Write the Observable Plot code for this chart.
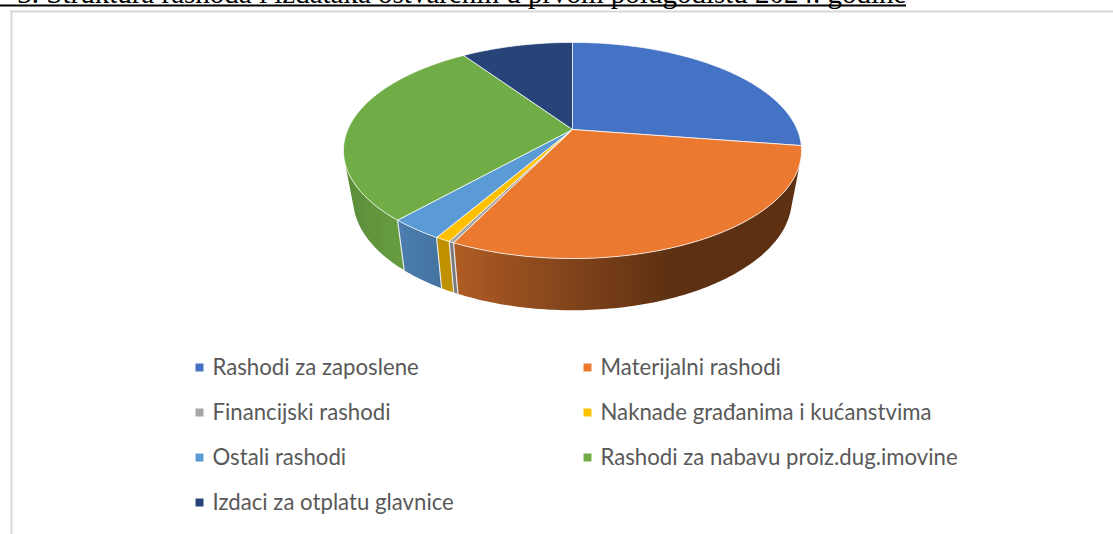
<!DOCTYPE html>
<html>
<head>
<meta charset="utf-8">
<script src="https://cdn.jsdelivr.net/npm/d3@7"></script>
<script src="https://cdn.jsdelivr.net/npm/@observablehq/plot@0.6"></script>
<style>
html,body{margin:0;padding:0;background:#fff;overflow:hidden}
svg{display:block}
</style>
</head>
<body>
<div id="chart"></div>
<script>
const titleText = "3. Struktura rashoda i izdataka ostvarenih u prvom polugodištu 2024. godine";
const categories = ["Rashodi za zaposlene","Materijalni rashodi","Financijski rashodi","Naknade građanima i kućanstvima","Ostali rashodi","Rashodi za nabavu proiz.dug.imovine","Izdaci za otplatu glavnice"];
const shares = [27.4, 29.8, 0.3, 0.9, 3.2, 28.9, 9.5];
const topColors = ["#4472C4","#EB7A30","#A5A5A5","#FFC000","#5B9BD5","#70AD47","#264478"];
const sideColors = ["#335593","url(#sideOrange)","#7C7C7C","#BF9000","url(#sideBlue)","url(#sideGreen)","#1C3359"];
const legendCols = [0,1,0,1,0,1,0];
const legendRows = [0,0,1,1,2,2,3];

const W = 1113, H = 534;
// perspective parameters of the top and bottom discs
const topDisc = {cx:572, cy:129, a:224.7, b:104, k:0.194};
const botDisc = {cx:572, cy:176, a:215, b:107, k:0.2};
const project = (d, deg) => {
  const t = deg*Math.PI/180, X = Math.sin(t), Y = -Math.cos(t), w = 1 - d.k*Y;
  return [d.cx + d.a*X/w, d.cy + d.b*Y/w];
};
const total = d3.sum(shares);
let acc = 0;
const slices = shares.map((s,i) => { const a0 = acc/total*360; acc += s; return {i, a0, a1: acc/total*360}; });
const arcSteps = (a0,a1) => { const n = Math.max(2, Math.ceil((a1-a0)/1)); return d3.range(n+1).map(j => a0+(a1-a0)*j/n); };

// top faces
const topRows = slices.flatMap(s => [
  {id:s.i, fill:topColors[s.i], p:[topDisc.cx, topDisc.cy]},
  ...arcSteps(s.a0,s.a1).map(a => ({id:s.i, fill:topColors[s.i], p:project(topDisc,a)})),
  {id:s.i, fill:topColors[s.i], p:[topDisc.cx, topDisc.cy]}
]);
// visible rim
const sideFrom = 108, sideTo = 252;
const sideRows = [], sepRows = [];
slices.forEach(s => {
  const a0 = Math.max(s.a0, sideFrom), a1 = Math.min(s.a1, sideTo);
  if (a1 <= a0) return;
  const as = arcSteps(a0,a1);
  as.forEach(a => sideRows.push({id:s.i, fill:sideColors[s.i], p:project(topDisc,a)}));
  as.slice().reverse().forEach(a => sideRows.push({id:s.i, fill:sideColors[s.i], p:project(botDisc,a)}));
  if (s.a0 > sideFrom && s.a0 < sideTo) {
    sepRows.push({id:s.i, p:project(topDisc,s.a0)}, {id:s.i, p:project(botDisc,s.a0)});
  }
});

const legendRowsData = categories.map((name,i) => ({
  name, color: topColors[i],
  sx: [199,587][legendCols[i]], tx: [212,600][legendCols[i]], y: 367 + 45*legendRows[i]
}));

const gradient = (id, x1, x2, stops) => {
  const g = d3.create("svg:linearGradient").attr("id", id).attr("gradientUnits","userSpaceOnUse")
    .attr("x1",x1).attr("x2",x2).attr("y1",0).attr("y2",0);
  stops.forEach(([o,c]) => g.append("stop").attr("offset",o).attr("stop-color",c));
  return g.node();
};
const defsMark = () => {
  const d = d3.create("svg:defs");
  d.node().append(gradient("sideOrange",455,670,[[0,"#B05C24"],[0.5,"#83451B"],[1,"#5E3012"]]));
  d.node().append(gradient("sideBlue",400,440,[[0,"#4A7DAE"],[1,"#44739F"]]));
  d.node().append(gradient("sideGreen",345,400,[[0,"#5A8C39"],[1,"#679D41"]]));
  return d.node();
};

const chart = Plot.plot({
  width: W, height: H, margin: 0,
  x: {domain:[0,W], range:[0,W], axis:null},
  y: {domain:[0,H], range:[0,H], axis:null},
  color: {type:"identity"},
  style: {background:"#fff"},
  marks: [
    defsMark,
    // title cropped by the top edge
    Plot.text([titleText], {x:()=>906, y:()=>2, text:d=>d, textAnchor:"end", lineAnchor:"bottom",
      fontFamily:"Liberation Serif", fontSize:29, fill:"#000"}),
    Plot.ruleY([5], {x1:0, x2:906, stroke:"#000", strokeWidth:2}),
    // chart frame
    Plot.ruleY([11], {x1:10, x2:W, stroke:"#D9D9D9", strokeWidth:2}),
    Plot.ruleX([11], {y1:10, y2:H, stroke:"#D9D9D9", strokeWidth:2}),
    // sides
    Plot.line(sideRows, {x:d=>d.p[0], y:d=>d.p[1], z:"id", fill:"fill", stroke:null, curve:"linear"}),
    Plot.line(sepRows, {x:d=>d.p[0], y:d=>d.p[1], z:"id", stroke:"#E8E8E8", strokeWidth:1.2, curve:"linear"}),
    // top faces
    Plot.line(topRows, {x:d=>d.p[0], y:d=>d.p[1], z:"id", fill:"fill", stroke:"#fff", strokeOpacity:0.75, strokeWidth:1, curve:"linear"}),
    // legend
    Plot.dot(legendRowsData, {x:"sx", y:"y", symbol:"square", r:4.5, fill:"color", stroke:null}),
    Plot.text(legendRowsData, {x:"tx", y:"y", text:"name", textAnchor:"start",
      fontFamily:"Lato", fontSize:22.2, fill:"#595959"})
  ]
});
document.getElementById("chart").append(chart);
</script>
</body>
</html>
